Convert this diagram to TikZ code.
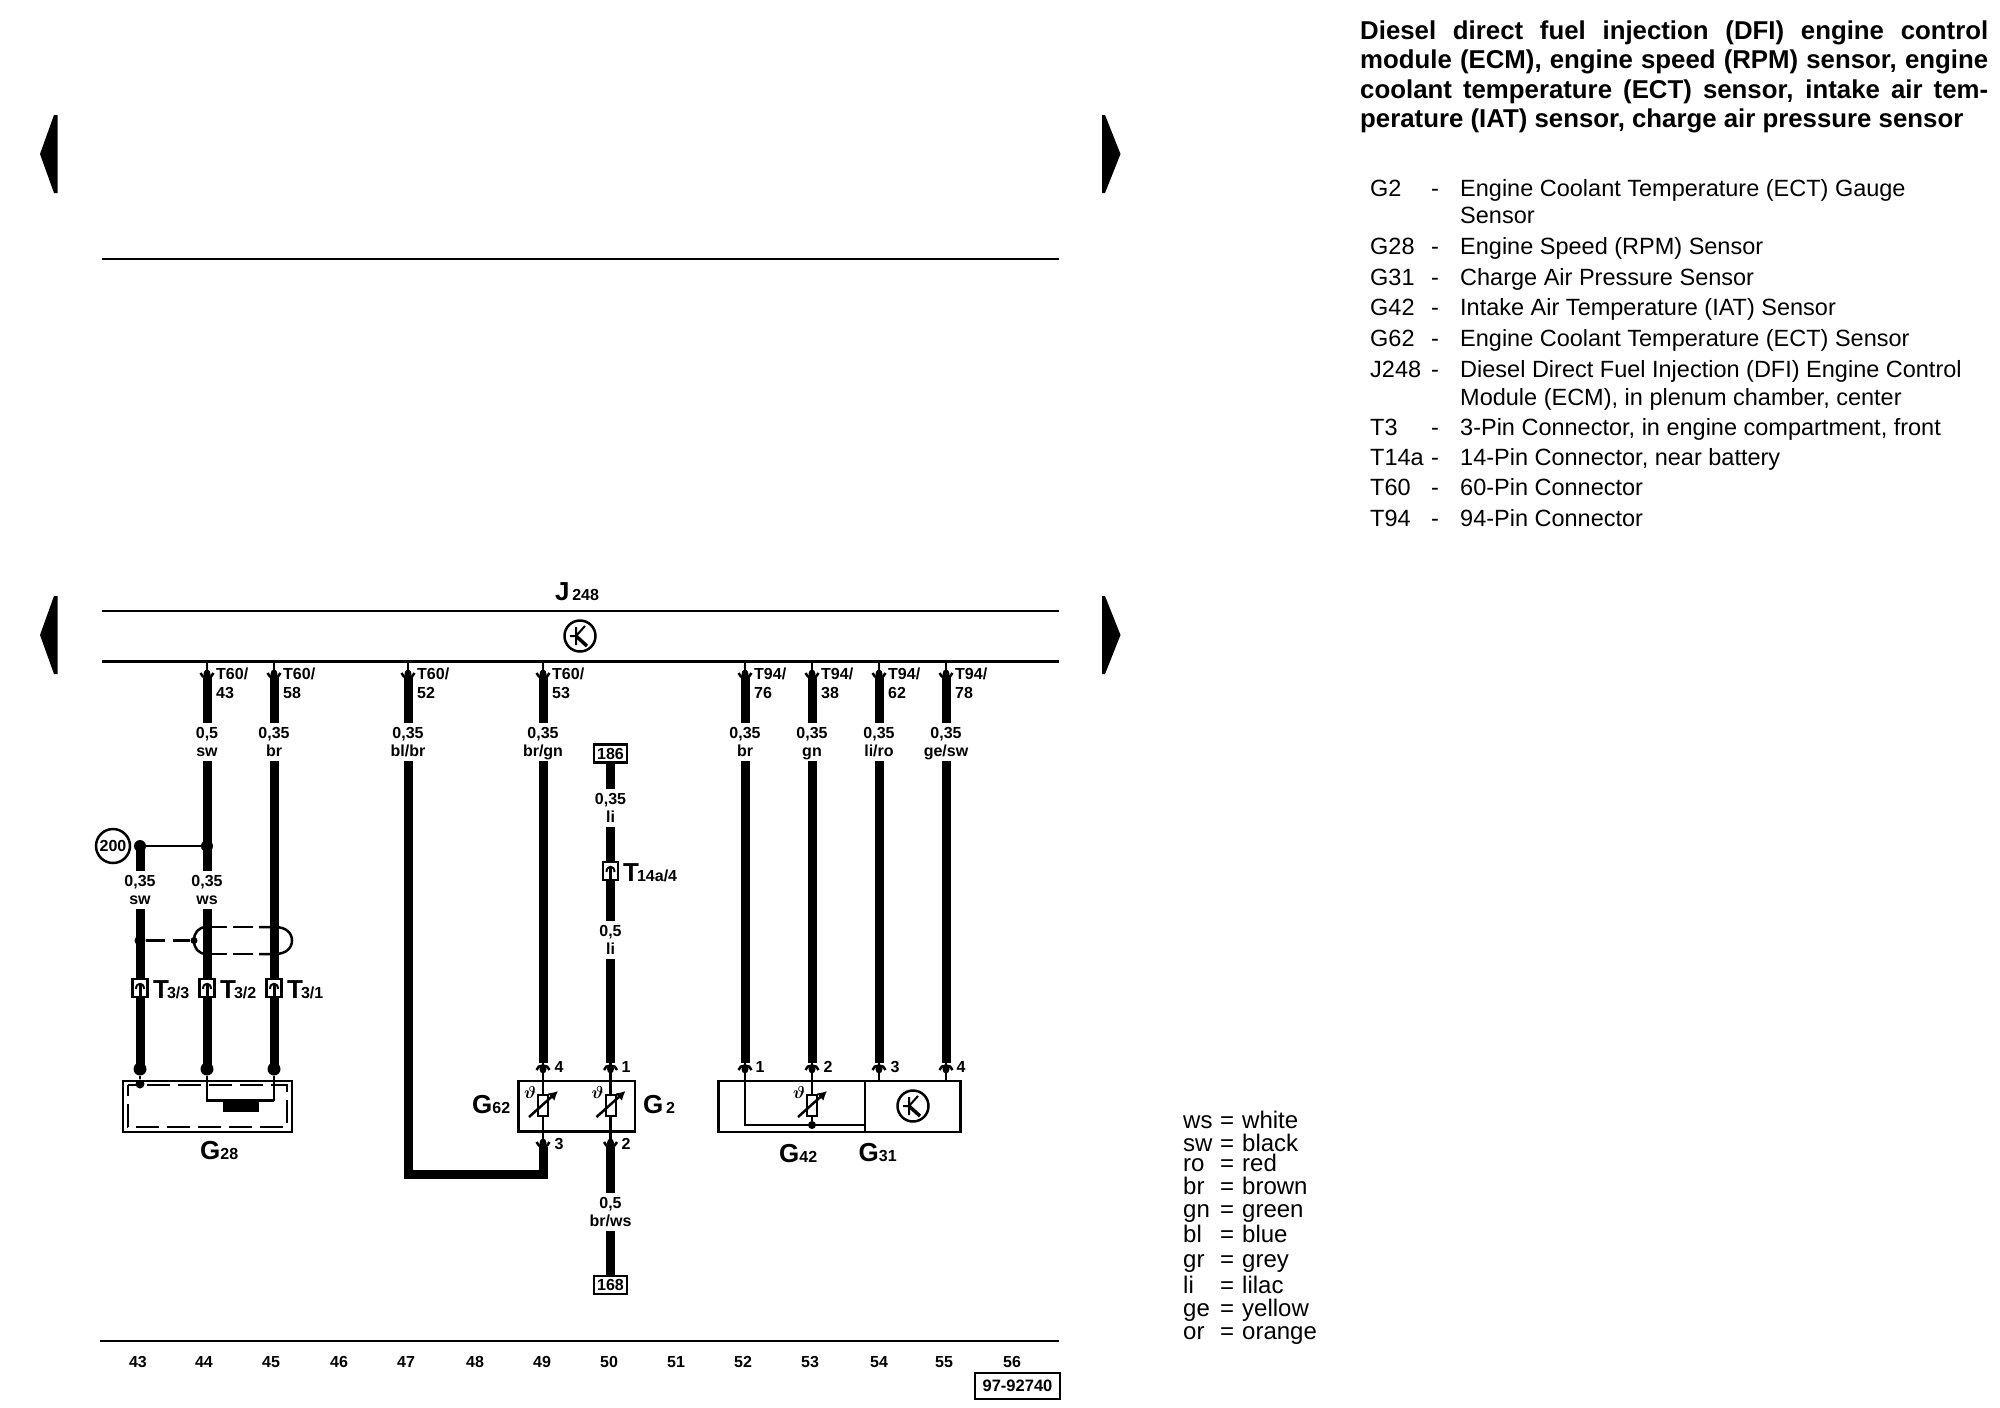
\documentclass[tikz,border=0pt]{standalone}
\usepackage{fontspec}
\setmainfont{Liberation Sans}
\usetikzlibrary{arrows.meta}

\newcommand{\bigsub}[2]{{\fontsize{26}{26}\selectfont #1}{\fontsize{16}{16}\selectfont #2}}
\newcommand{\wlab}[2]{\rule[-3.4pt]{0pt}{18pt}#1\\\rule[-3.4pt]{0pt}{18pt}#2}

\tikzset{
  x=1pt, y=-1pt,
  wire/.style={line width=9pt, line cap=butt, line join=miter},
  thinwire/.style={line width=2.5pt},
  wirelabel/.style={font=\fontsize{16}{18}\selectfont\bfseries, align=center, inner sep=0pt, minimum height=38pt},
  pinlabel/.style={font=\fontsize{16}{19}\selectfont\bfseries, align=left, inner sep=0pt, anchor=north west},
  partlabel/.style={font=\bfseries, inner sep=0pt, anchor=base west},
  refbox/.style={draw, line width=2.5pt, fill=white, font=\fontsize{16}{16}\selectfont\bfseries, inner sep=0pt, minimum width=33pt, minimum height=18pt},
  legendtext/.style={font=\fontsize{23.5}{28}\selectfont, inner sep=0pt, anchor=base west},
  colortext/.style={font=\fontsize{24}{28}\selectfont, inner sep=0pt, anchor=base west},
  pincup/.pic={
    \draw[thinwire] (-6.5,-4) .. controls (-5.5,2) and (5.5,2) .. (6.5,-4);
    \fill (0,-3) ellipse (3.5pt and 4.5pt);
  },
  plug/.pic={
    \filldraw[fill=white, line width=2.5pt] (-7.5,-9) rectangle (7.5,9);
    \draw[line width=2pt] (-4,1) .. controls (-4,-6) and (4,-6) .. (4,1);
    \draw[line width=3pt] (0,-4) -- (0,9);
  },
  tempres/.pic={
    \filldraw[fill=white, line width=2pt] (-5,-10.5) rectangle (5,10.5);
    \draw[line width=2.5pt, -{Latex[length=9pt,width=10pt]}] (-14,12) -- (15,-14);
    \node[font=\fontsize{17}{17}\selectfont\bfseries\boldmath, inner sep=0pt] (theta) at (-13,-13) {$\vartheta$};
  },
  speedsym/.pic={
    \draw[line width=2.5pt] (0,0) circle (15.5pt);
    \draw[line width=2pt] (-10,0) -- (-4,0) (-4,-9) -- (-4,9) (-4,0) -- (5,-10);
    \draw[line width=3.5pt] (-4,0) -- (7,10);
  },
}

\begin{document}
\begin{tikzpicture}
  \useasboundingbox (0,0) rectangle (2000,1408);

  % page arrows:
  \foreach \ypos in {154,635} {
    \fill (40,\ypos) -- (54,\ypos-39) -- (57.5,\ypos-39) -- (57.5,\ypos+39) -- (54,\ypos+39) -- cycle;
    \fill (1120.5,\ypos) -- (1105,\ypos-39) -- (1102,\ypos-39) -- (1102,\ypos+39) -- (1105,\ypos+39) -- cycle;
  }

  % rules:
  \coordinate (ruleL) at (102,259);
  \coordinate (ruleR) at (1059,259);
  \draw[line width=1.2pt] (ruleL) -- (ruleR);
  \coordinate (footL) at (100,1341);
  \coordinate (footR) at (1059,1341);
  \draw[line width=2.5pt] (footL) -- (footR);

  % control module J248:
  \coordinate (ecmTL) at (102,611);
  \coordinate (ecmTR) at (1059,611);
  \coordinate (ecmBL) at (102,661);
  \coordinate (ecmBR) at (1059,661);
  \draw[line width=2.5pt] (ecmTL) -- (ecmTR);
  \draw[line width=3pt] (ecmBL) -- (ecmBR);
  \node[partlabel] (j248) at (555,600.5) {\bigsub{J}{\,248}};
  \pic (ecmsym) at (580,636) {speedsym};

  % wires down from J248:
  \foreach \col/\xpos/\conn/\term/\size/\code in {
      c44/207/T60/43/{0,5}/sw, c45/274/T60/58/{0,35}/br,
      c47/408/T60/52/{0,35}/{bl/br}, c49/543/T60/53/{0,35}/{br/gn},
      c52/745/T94/76/{0,35}/br, c53/812/T94/38/{0,35}/gn,
      c54/879/T94/62/{0,35}/{li/ro}, c55/946/T94/78/{0,35}/{ge/sw}} {
    \coordinate (\col stem) at (\xpos,662);
    \coordinate (\col top) at (\xpos,677);
    \node[wirelabel] (\col lab) at (\xpos,742) {\wlab{\size}{\code}};
    \node[pinlabel] (\col pin) at (\xpos+9,668) {\conn/\\\term};
    \draw[thinwire] (\col stem) -- (\col top);
    \draw[wire] (\col top) -- (\col lab);
    \pic (\col cup) at (\xpos,677) {pincup};
  }

  % ground 200 and G28 wires:
  \node[draw, circle, line width=2.5pt, minimum size=34pt, inner sep=0pt, font=\fontsize{16}{16}\selectfont\bfseries] (gnd) at (113,846) {200};
  \node[fill, circle, minimum size=12pt, inner sep=0pt] (dotA) at (140,846) {};
  \node[fill, circle, minimum size=12pt, inner sep=0pt] (dotB) at (207,846) {};
  \node[wirelabel] (c43lab) at (140,890) {\wlab{0,35}{sw}};
  \node[wirelabel] (c44low) at (207,890) {\wlab{0,35}{ws}};
  \node[fill, circle, minimum size=13pt, inner sep=0pt] (endA) at (140,1069) {};
  \node[fill, circle, minimum size=13pt, inner sep=0pt] (endB) at (207,1069) {};
  \node[fill, circle, minimum size=13pt, inner sep=0pt] (endC) at (274,1069) {};
  \draw[wire] (dotA.center) -- (c43lab);
  \draw[wire] (c43lab) -- (endA.center);
  \draw[wire] (c44lab) -- (c44low);
  \draw[wire] (c44low) -- (endB.center);
  \draw[wire] (c45lab) -- (endC.center);
  \draw[line width=2pt] (dotA) -- (dotB);

  % shield:
  \node[fill, circle, minimum size=11pt, inner sep=0pt] (shA) at (140,940.5) {};
  \node[fill, circle, minimum size=7pt, inner sep=0pt] (shB) at (194,940.5) {};
  \draw[line width=2.5pt, dash pattern=on 19pt off 8pt] (shA) -- (shB);
  \draw[line width=2.5pt] (207,927) .. controls (198,927) and (194,933) .. (194,940.5) .. controls (194,948) and (198,954) .. (207,954);
  \draw[line width=2.5pt] (259,927) -- (275,927) .. controls (286,927) and (292,933) .. (292,940.5) .. controls (292,948) and (286,954) .. (275,954) -- (259,954);
  \draw[line width=2.5pt, dash pattern=on 20pt off 6pt] (207,927) -- (259,927);
  \draw[line width=2.5pt, dash pattern=on 20pt off 6pt] (207,954) -- (259,954);

  % connector T3:
  \pic (plugA) at (140,988) {plug};
  \pic (plugB) at (207,988) {plug};
  \pic (plugC) at (274,988) {plug};
  \node[partlabel] (t33) at (153,998) {\bigsub{T}{\kern-2pt 3/3}};
  \node[partlabel] (t32) at (220,998) {\bigsub{T}{\kern-2pt 3/2}};
  \node[partlabel] (t31) at (287,998) {\bigsub{T}{\kern-2pt 3/1}};

  % sensor G28:
  \draw[line width=2.5pt] (123,1081) rectangle (292,1132);
  \draw[line width=2.5pt, dash pattern=on 23pt off 8pt, dash phase=12pt] (128,1085) rectangle (287,1127);
  \node[fill, circle, minimum size=9pt, inner sep=0pt] (gDot) at (140,1084) {};
  \draw[line width=2pt] (endA) -- (gDot);
  \draw[line width=2.5pt] (endB) |- (274,1100.5);
  \draw[line width=1.5pt] (274,1100.5) -- (endC);
  \fill (223,1101) rectangle (259,1112);
  \node[partlabel] (g28) at (200,1159) {\bigsub{G}{28}};

  % sensors G62 and G2:
  \node[draw, line width=2.5pt, minimum width=116.5pt, minimum height=50.5pt, inner sep=0pt] (gBox) at (576.8,1106.3) {};
  \coordinate (c49in) at (543,1063);
  \coordinate (c49out) at (543,1147);
  \coordinate (c49bend) at (543,1174);
  \coordinate (c47bend) at (408,1174);
  \draw[wire] (c49lab) -- (c49in);
  \draw[thinwire] (c49in) -- (c49out);
  \draw[wire] (c47lab) -- (c47bend) -- (c49bend) -- (c49out);
  \pic (resA) at (543,1105) {tempres};
  \pic[yscale=-1] (cupA) at (543,1066) {pincup};
  \pic (cupB) at (543,1146) {pincup};
  \node[partlabel] (g62) at (472,1113.5) {\bigsub{G}{62}};

  % G2 wire:
  \node[refbox] (ref186) at (610.5,753.5) {186};
  \node[wirelabel] (c50labA) at (610.5,808) {\wlab{0,35}{li}};
  \node[wirelabel] (c50labB) at (610.5,940) {\wlab{0,5}{li}};
  \node[wirelabel] (c50labC) at (610.5,1212) {\wlab{0,5}{br/ws}};
  \node[refbox] (ref168) at (610.5,1285) {168};
  \coordinate (c50in) at (610.5,1063);
  \coordinate (c50out) at (610.5,1147);
  \draw[wire] (ref186) -- (c50labA);
  \draw[wire] (c50labA) -- (c50labB);
  \draw[wire] (c50labB) -- (c50in);
  \draw[thinwire] (c50in) -- (c50out);
  \draw[wire] (c50out) -- (c50labC);
  \draw[wire] (c50labC) -- (ref168);
  \pic (plugD) at (610.5,871) {plug};
  \node[partlabel] (t14) at (623,881) {\bigsub{T}{\kern-2pt 14a/4}};
  \pic (resB) at (610.5,1105) {tempres};
  \pic[yscale=-1] (cupC) at (610.5,1066) {pincup};
  \pic (cupD) at (610.5,1146) {pincup};
  \node[partlabel] (g2) at (643,1113.5) {\bigsub{G}{\,2}};

  % sensors G42 and G31:
  \draw[line width=2.5pt] (718.5,1081) rectangle (960.5,1132);
  \coordinate (divTop) at (865,1081);
  \coordinate (divBot) at (865,1132);
  \draw[line width=2.5pt] (divTop) -- (divBot);
  \foreach \col/\xpos in {c52/745,c53/812,c54/879,c55/946} {
    \coordinate (\col end) at (\xpos,1063);
    \draw[wire] (\col lab) -- (\col end);
    \pic[yscale=-1] (\col in) at (\xpos,1066) {pincup};
  }
  \node[fill, circle, minimum size=8pt, inner sep=0pt] (resDot) at (812,1125) {};
  \draw[thinwire] (c52end) |- (divBot |- resDot);
  \draw[thinwire] (c53end) -- (resDot);
  \draw[thinwire] (c54end) -- (879,1081);
  \draw[thinwire] (c55end) -- (946,1081);
  \pic (resC) at (812,1105) {tempres};
  \pic (g31sym) at (913,1106) {speedsym};
  \node[partlabel] (g42) at (779,1162) {\bigsub{G}{42}};
  \node[partlabel] (g31) at (858.5,1161.5) {\bigsub{G}{31}};

  % pin numbers:
  \foreach \pinname/\xpos/\ypos/\txt in {pa/559/1067/4, pb/559/1144/3, pc/626/1067/1, pd/626/1144/2,
      pe/760/1067/1, pf/828/1067/2, pg/895/1067/3, ph/961/1067/4}
    \node[font=\fontsize{16}{16}\selectfont\bfseries, inner sep=0pt] (\pinname) at (\xpos,\ypos) {\txt};

  % column numbers:
  \foreach \txt/\xpos in {43/138,44/204,45/271,46/339,47/406,48/475,49/542,50/609,51/676,52/743,53/810,54/879,55/944,56/1012}
    \node[font=\fontsize{16}{16}\selectfont\bfseries, inner sep=0pt] (num\txt) at (\xpos,1362) {\txt};
  \node[draw, line width=2.5pt, minimum width=85pt, minimum height=26pt, inner sep=0pt, font=\fontsize{16.5}{16.5}\selectfont\bfseries] (drawno) at (1017.5,1386) {97-92740};

  % title:
  \node[font=\fontsize{25.8}{29.5}\selectfont\bfseries, inner sep=0pt, anchor=north west, text width=628pt, align=none] (title) at (1360,20.5) {%
    \hbox to 628pt{Diesel direct fuel injection (DFI) engine control}
    \hbox to 628pt{module (ECM), engine speed (RPM) sensor, engine}
    \hbox to 628pt{coolant temperature (ECT) sensor, intake air tem-}
    \hbox{perature (IAT) sensor, charge air pressure sensor}};

  % parts list:
  \foreach \ypos/\code/\txt in {
      196/G2/Engine Coolant Temperature (ECT) Gauge,
      254/G28/Engine Speed (RPM) Sensor,
      285/G31/Charge Air Pressure Sensor,
      315.5/G42/Intake Air Temperature (IAT) Sensor,
      346/G62/Engine Coolant Temperature (ECT) Sensor,
      377/J248/Diesel Direct Fuel Injection (DFI) Engine Control,
      435.5/T3/{3-Pin Connector, in engine compartment, front},
      465/T14a/{14-Pin Connector, near battery},
      495.5/T60/60-Pin Connector,
      526/T94/94-Pin Connector} {
    \node[legendtext] (code\code) at (1370,\ypos) {\code};
    \node[legendtext] (dash\code) at (1431,\ypos) {-};
    \node[legendtext] (text\code) at (1460,\ypos) {\txt};
  }
  \node[legendtext] (textG2b) at (1460,223.5) {Sensor};
  \node[legendtext] (textJb) at (1460,405) {Module (ECM), in plenum chamber, center};

  % colour key:
  \foreach \ypos/\code/\txt in {1128/ws/white, 1151.5/sw/black, 1171.5/ro/red, 1194.5/br/brown, 1217.5/gn/green,
      1242.5/bl/blue, 1267.5/gr/grey, 1293.5/li/lilac, 1316.5/ge/yellow, 1339.5/or/orange} {
    \node[colortext] (key\code) at (1183,\ypos) {\code};
    \node[colortext] (eq\code) at (1220,\ypos) {=};
    \node[colortext] (name\code) at (1242,\ypos) {\txt};
  }
\end{tikzpicture}
\end{document}
